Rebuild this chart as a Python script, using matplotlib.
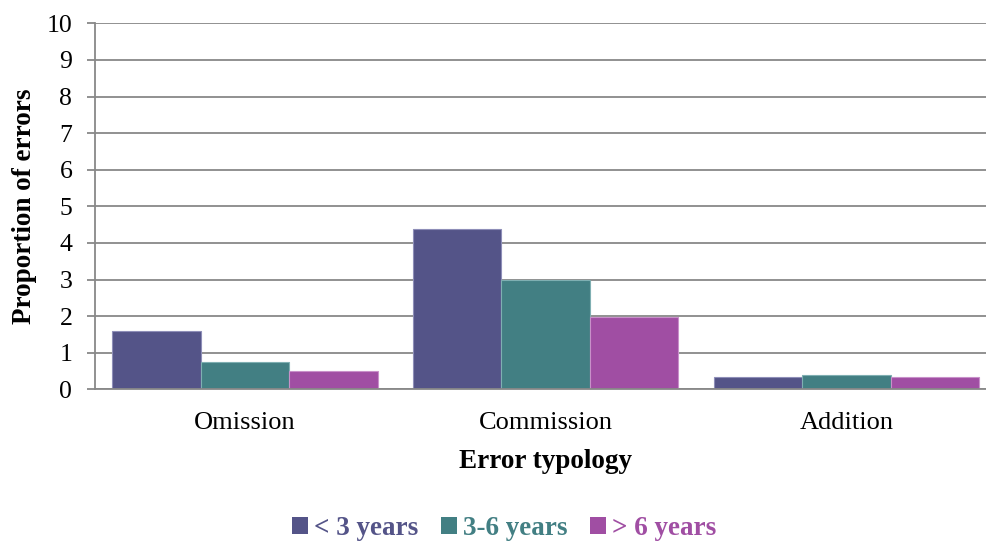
import numpy as np
import matplotlib
matplotlib.use("Agg")
import matplotlib.pyplot as plt
from matplotlib.patches import Patch

plt.rcParams['font.family'] = ['Liberation Serif', 'DejaVu Serif']

# Error counts per typology and age group
categories = ['Omission', 'Commission', 'Addition']
groups = ['< 3 years', '3-6 years', '> 6 years']
under_3 = [1.60, 4.37, 0.34]
from_3_to_6 = [0.76, 2.98, 0.38]
over_6 = [0.49, 1.97, 0.33]
yticks = list(range(0, 11))

colors = ['#545488', '#427F83', '#A04EA3']
edges = ['#8E8EB8', '#7FAFB2', '#C890C9']
series = [under_3, from_3_to_6, over_6]

fig = plt.figure(figsize=(9.87, 5.43), dpi=100)
ax = fig.add_axes([0.0958, 0.283, 0.9142, 0.674])

x = np.arange(len(categories))
width = 0.294
for i, vals in enumerate(series):
    ax.bar(x + (i - 1) * width, vals, width, color=colors[i],
           edgecolor=edges[i], linewidth=0.8, zorder=3)

ax.set_xlim(-0.5, 2.5)
ax.set_ylim(0, 10)
ax.set_yticks(yticks)
ax.set_xticks(x)
ax.set_xticklabels(categories)

grid_col = '#888888'
ax.yaxis.grid(True, color=grid_col, linewidth=1.3, zorder=0)
for s in ['top', 'right']:
    ax.spines[s].set_visible(False)
for s in ['left', 'bottom']:
    ax.spines[s].set_color(grid_col)
    ax.spines[s].set_linewidth(1.3)
    ax.spines[s].set_zorder(4)

ax.tick_params(axis='y', length=6, width=1.3, color=grid_col, pad=10,
               labelsize=18.5)
ax.tick_params(axis='x', length=0, pad=16, labelsize=19)

ax.set_ylabel('Proportion of errors', fontsize=19.5, fontweight='bold')
ax.yaxis.set_label_coords(-0.064, 0.5)
ax.set_xlabel('Error typology', fontsize=19.5, fontweight='bold')
ax.xaxis.set_label_coords(0.5, -0.163)

handles = [Patch(facecolor=c, edgecolor='none') for c in colors]
fig.legend(handles, groups, loc='center', bbox_to_anchor=(504 / 987, 0.026),
           ncol=3, frameon=False, handlelength=0.6, handleheight=0.6,
           handletextpad=0.2, columnspacing=0.85, labelcolor=colors,
           borderpad=0.2,
           prop={'family': 'Liberation Serif', 'weight': 'bold', 'size': 19.5})

fig.savefig('out.png', dpi=100)
